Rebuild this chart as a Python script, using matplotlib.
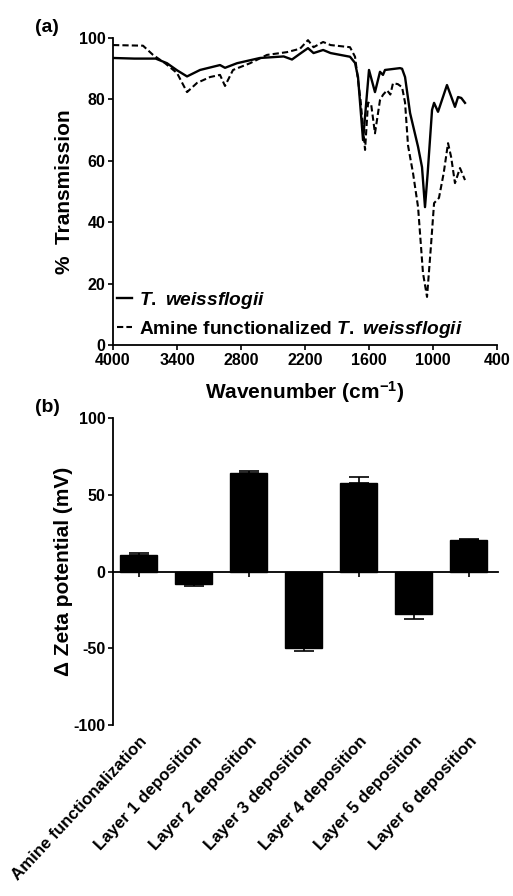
import matplotlib
matplotlib.use("Agg")
import matplotlib.pyplot as plt

# FTIR spectra (wavenumber cm-1, % transmission)
wn_native = [4000, 3800, 3600, 3494, 3400, 3306, 3184, 2997, 2950, 2837, 2622, 2400, 2322,
             2250, 2172, 2120, 2030, 1960, 1778, 1731, 1703, 1656, 1600, 1544, 1497, 1469,
             1450, 1310, 1290, 1262, 1215, 1140, 1103, 1075, 1050, 1009, 990, 953, 869,
             794, 765, 735, 700]
t_native = [93.5, 93.3, 93.3, 91.8, 89.5, 87.5, 89.6, 91.2, 90.3, 91.8, 93.5, 94.0, 93.0,
            94.8, 96.7, 95.1, 96.1, 95.1, 93.9, 91.9, 87.3, 66.8, 89.6, 82.4, 89.0, 88.0,
            89.6, 90.2, 90.0, 87.3, 75.6, 64.6, 58.0, 45.0, 56.0, 76.6, 78.9, 76.0, 84.7,
            77.6, 80.8, 80.5, 78.9]

wn_amine = [4000, 3719, 3625, 3512, 3400, 3306, 3212, 3090, 2997, 2950, 2875, 2715, 2556,
            2369, 2247, 2172, 2120, 2030, 1960, 1778, 1731, 1703, 1680, 1637, 1609, 1580,
            1544, 1497, 1469, 1431, 1400, 1375, 1330, 1290, 1262, 1234, 1187, 1140, 1094,
            1056, 1020, 990, 944, 900, 859, 830, 794, 747, 700]
t_amine = [97.7, 97.5, 94.5, 91.8, 88.6, 82.4, 85.4, 87.3, 88.0, 84.4, 89.6, 91.8, 94.5,
           95.4, 96.5, 99.3, 97.0, 98.7, 97.7, 97.0, 93.9, 86.3, 80.0, 63.6, 79.0, 78.5,
           69.0, 79.8, 81.5, 83.0, 81.6, 85.3, 85.0, 84.0, 79.0, 65.0, 56.0, 45.0, 23.6,
           15.8, 32.0, 46.3, 48.0, 56.0, 65.8, 61.3, 52.8, 57.7, 53.8]

# zeta potential changes
steps = ["Amine functionalization", "Layer 1 deposition", "Layer 2 deposition",
         "Layer 3 deposition", "Layer 4 deposition", "Layer 5 deposition",
         "Layer 6 deposition"]
zeta = [10.5, -8.0, 64.0, -49.5, 58.0, -27.8, 20.5]
zeta_err = [1.5, 1.6, 1.5, 2.0, 3.7, 2.8, 1.0]

plt.rcParams['font.family'] = ['Liberation Sans', 'DejaVu Sans']
plt.rcParams['font.weight'] = 'bold'
plt.rcParams['axes.labelweight'] = 'bold'
plt.rcParams['axes.unicode_minus'] = False
plt.rcParams['mathtext.fontset'] = 'custom'
plt.rcParams['mathtext.rm'] = 'Liberation Sans:bold'
plt.rcParams['mathtext.it'] = 'Liberation Sans:italic:bold'
plt.rcParams['mathtext.bf'] = 'Liberation Sans:bold'


def style_axis(ax):
    for s in ['top', 'right']:
        ax.spines[s].set_visible(False)
    for s in ['left', 'bottom']:
        ax.spines[s].set_linewidth(1.3)
    ax.tick_params(direction='out', length=3.5, width=1.2, labelsize=11.5, pad=2)


fig = plt.figure(figsize=(5.13, 8.96), dpi=100)

# (a) FTIR
ax1 = fig.add_axes([0.2203, 0.6144, 0.7485, 0.3432])
ax1.plot(wn_native, t_native, color='black', lw=1.7, label=r'$T.\ weissflogii$')
ax1.plot(wn_amine, t_amine, color='black', lw=1.5, ls=(0, (3, 1.5)),
         label=r'Amine functionalized $T.\ weissflogii$')
ax1.set_xlim(4000, 400)
ax1.set_ylim(0, 100)
ax1.set_xticks([4000, 3400, 2800, 2200, 1600, 1000, 400])
ax1.set_yticks([0, 20, 40, 60, 80, 100])
style_axis(ax1)
ax1.set_xlabel('Wavenumber (cm$^{-1}$)', fontsize=15, labelpad=8)
ax1.set_ylabel('%  Transmission', fontsize=15, labelpad=3)
ax1.legend(loc='lower left', bbox_to_anchor=(-0.02, -0.02), frameon=False,
           handlelength=0.8, handletextpad=0.35, labelspacing=0.42, fontsize=13.8,
           borderaxespad=0.2)

# (b) zeta potential
ax2 = fig.add_axes([0.2203, 0.1908, 0.7505, 0.3426])
pos = list(range(len(steps)))
err_lo = [e if v < 0 else 0 for v, e in zip(zeta, zeta_err)]
err_hi = [e if v > 0 else 0 for v, e in zip(zeta, zeta_err)]
ax2.bar(pos, zeta, width=0.67, color='black', edgecolor='black',
        yerr=[err_lo, err_hi], capsize=7,
        error_kw=dict(elinewidth=1.2, capthick=1.2, ecolor='black'))
ax2.set_xlim(-0.47, 6.53)
ax2.set_ylim(-100, 100)
ax2.set_yticks([-100, -50, 0, 50, 100])
style_axis(ax2)
ax2.spines['bottom'].set_position(('data', 0))
ax2.set_xticks(pos)
ax2.set_xticklabels([])
ax2.set_ylabel('Δ Zeta potential (mV)', fontsize=15, labelpad=0)

sec = ax2.secondary_xaxis(0)
sec.spines['bottom'].set_visible(False)
sec.set_xticks(pos)
sec.set_xticklabels(steps, rotation=47, ha='right', rotation_mode='anchor',
                    fontsize=12.2)
sec.tick_params(length=0, pad=6)

fig.text(47 / 513, 1 - 27 / 896, '(a)', ha='center', va='center', fontsize=14,
         fontweight='bold')
fig.text(47 / 513, 1 - 407 / 896, '(b)', ha='center', va='center', fontsize=14,
         fontweight='bold')

fig.savefig('out.png', dpi=100)
